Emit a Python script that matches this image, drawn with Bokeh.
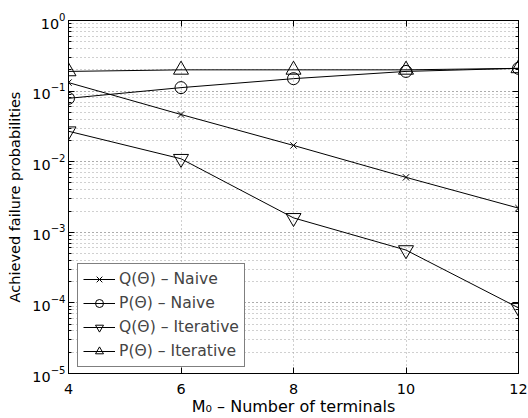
from bokeh.plotting import figure
from bokeh.models import (LogAxis, LinearAxis, Legend, LegendItem, Range1d,
                          FixedTicker, LogTicker, CustomJSTickFormatter)
from bokeh.embed import file_html
from bokeh.resources import INLINE

terminals = [4, 6, 8, 10, 12]
q_naive = [0.132, 0.0466, 0.017, 0.006, 0.0022]
p_naive = [0.079, 0.112, 0.15, 0.19, 0.21]
q_iter = [0.027, 0.011, 0.0016, 0.00056, 0.000085]
p_iter = [0.19, 0.2, 0.2, 0.2, 0.21]
series_labels = ["Q(Θ) – Naive", "P(Θ) – Naive", "Q(Θ) – Iterative", "P(Θ) – Iterative"]
x_ticks = [4, 6, 8, 10, 12]

FONT = "DejaVu Sans"

p = figure(width=528, height=418, output_backend="svg", toolbar_location=None,
           y_axis_type="log", x_range=Range1d(4, 12), y_range=Range1d(1e-5, 1),
           min_border_left=68, min_border_right=10, min_border_top=20, min_border_bottom=10)

p.outline_line_color = "black"
p.outline_line_width = 1

for ax in (p.xaxis[0], p.yaxis[0]):
    ax.major_tick_in = 6
    ax.major_tick_out = 0
    ax.minor_tick_in = 3
    ax.minor_tick_out = 0
    ax.major_label_text_font = FONT
    ax.major_label_text_font_size = "14.4px"
    ax.major_label_text_color = "black"
    ax.axis_line_color = "black"
    ax.major_tick_line_color = "black"
    ax.minor_tick_line_color = "black"
    ax.axis_label_text_font = FONT
    ax.axis_label_text_font_style = "normal"
    ax.axis_label_text_color = "black"

p.xaxis[0].ticker = FixedTicker(ticks=x_ticks)
p.xaxis[0].minor_tick_line_color = None
p.xaxis[0].major_label_standoff = 10
p.xaxis[0].axis_label = "M₀ – Number of terminals"
p.xaxis[0].axis_label_text_font_size = "16px"
p.xaxis[0].axis_label_standoff = 0

p.yaxis[0].axis_label = "Achieved failure probabilities"
p.yaxis[0].axis_label_text_font_size = "14.5px"
p.yaxis[0].axis_label_standoff = 6
p.yaxis[0].major_label_standoff = 3

# right and top axes with ticks only
ra = LogAxis(ticker=LogTicker(), formatter=CustomJSTickFormatter(code="return ''"),
             major_tick_in=6, major_tick_out=0, minor_tick_in=3, minor_tick_out=0, major_label_standoff=0)
p.add_layout(ra, "right")
ta = LinearAxis(ticker=FixedTicker(ticks=x_ticks), formatter=CustomJSTickFormatter(code="return ''"),
                major_tick_in=6, major_tick_out=0, minor_tick_line_color=None, major_label_standoff=0)
p.add_layout(ta, "above")

# grid
p.xgrid.grid_line_color = "#a0a0a0"
p.xgrid.grid_line_dash = "1 3"
p.ygrid.grid_line_color = "#a0a0a0"
p.ygrid.grid_line_dash = "1 3"
p.ygrid.minor_grid_line_color = "#a0a0a0"
p.ygrid.minor_grid_line_dash = "1 3"

items = []
markers = ["x", "circle", "inverted_triangle", "triangle"]
sizes = [9, 12, 15, 15]
for ys, mk, sz, lab in zip([q_naive, p_naive, q_iter, p_iter], markers, sizes, series_labels):
    l = p.line(terminals, ys, line_color="black", line_width=1)
    s = p.scatter(terminals, ys, marker=mk, size=sz, line_color="black", fill_color=None, line_width=1)
    items.append(LegendItem(label=lab, renderers=[l, s]))

legend = Legend(items=items, location=(9, 6), border_line_color="black", border_line_width=1,
                label_text_font=FONT, label_text_font_size="15.6px", glyph_width=32, glyph_height=20,
                label_height=20, spacing=4, padding=5, margin=0, label_standoff=4,
                background_fill_alpha=1)
p.add_layout(legend)

open("out.html", "w").write(file_html(p, INLINE))
